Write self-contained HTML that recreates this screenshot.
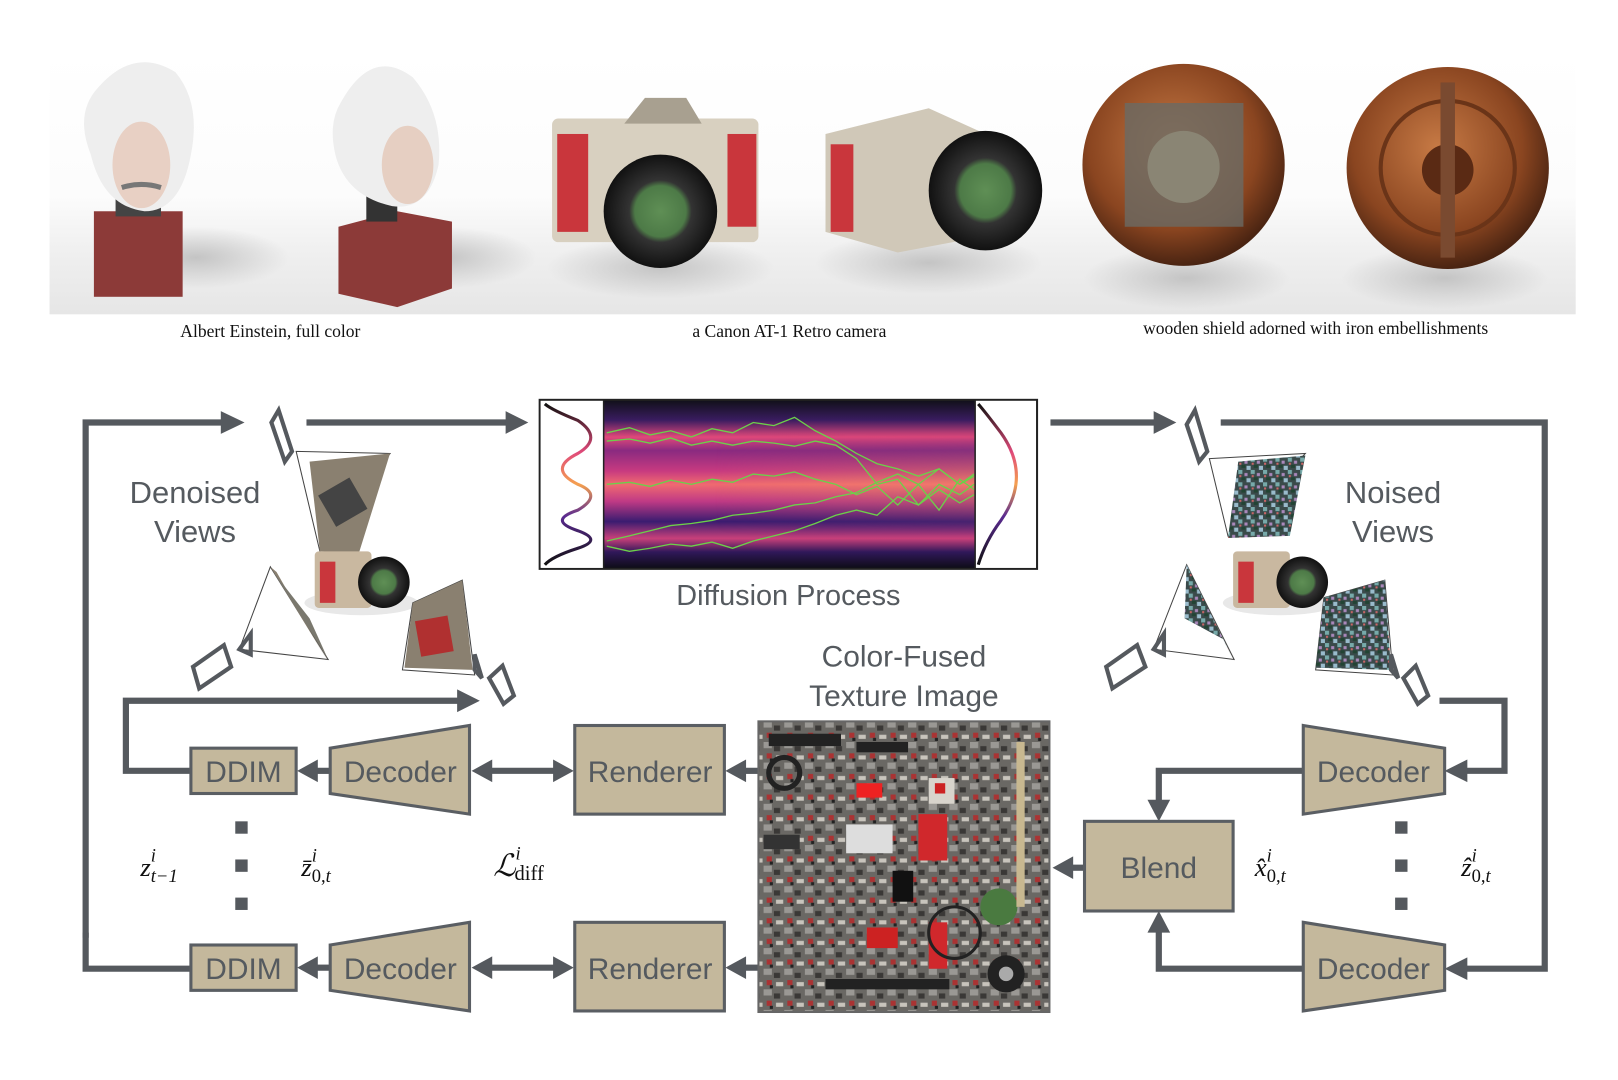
<!DOCTYPE html>
<html><head><meta charset="utf-8"><style>
html,body{margin:0;padding:0;background:#fff;overflow:hidden}
svg{display:block}
.sans{font-family:"Liberation Sans",sans-serif;fill:#555a5f}
.ser{font-family:"Liberation Serif",serif;fill:#111}
.box{fill:#c4b89c;stroke:#5a5e63;stroke-width:3}
.ln{stroke:#55595e;stroke-width:6;fill:none}
.ah{fill:#55595e}
.fr{fill:none;stroke:#55595e;stroke-width:4}
.th{stroke:#444;stroke-width:1;fill:none}
</style></head><body>
<svg width="1618" height="1080" viewBox="0 0 1568 1048" preserveAspectRatio="none" xmlns="http://www.w3.org/2000/svg">
<defs>
<linearGradient id="floor" x1="0" y1="0" x2="0" y2="1"><stop offset="0" stop-color="#fff"/><stop offset="0.55" stop-color="#fcfcfc"/><stop offset="0.75" stop-color="#f0f0f0"/><stop offset="1" stop-color="#e6e6e6"/></linearGradient>
<radialGradient id="shadow" cx="0.5" cy="0.5" r="0.5"><stop offset="0" stop-color="#c4c4c4"/><stop offset="1" stop-color="#c4c4c4" stop-opacity="0"/></radialGradient>
<radialGradient id="shield" cx="0.45" cy="0.4" r="0.6"><stop offset="0" stop-color="#c77a45"/><stop offset="0.7" stop-color="#8a4520"/><stop offset="1" stop-color="#4a2412"/></radialGradient>
<radialGradient id="lens" cx="0.5" cy="0.5" r="0.5"><stop offset="0" stop-color="#5f8f55"/><stop offset="0.45" stop-color="#4d7a47"/><stop offset="0.55" stop-color="#333"/><stop offset="1" stop-color="#111"/></radialGradient>
<linearGradient id="diff" x1="0" y1="0" x2="0" y2="1">
<stop offset="0" stop-color="#101018"/><stop offset="0.12" stop-color="#3a1c60"/><stop offset="0.22" stop-color="#e0487a"/><stop offset="0.3" stop-color="#8a2a80"/><stop offset="0.42" stop-color="#c73a80"/><stop offset="0.5" stop-color="#f06a70"/><stop offset="0.6" stop-color="#c03a85"/><stop offset="0.72" stop-color="#3a1c70"/><stop offset="0.82" stop-color="#c8407a"/><stop offset="0.9" stop-color="#30185a"/><stop offset="1" stop-color="#0c0c14"/></linearGradient>
<linearGradient id="diffR" x1="0" y1="0" x2="0" y2="1"><stop offset="0" stop-color="#101018" stop-opacity="0"/><stop offset="0.2" stop-color="#4a2078" stop-opacity="0"/><stop offset="0.5" stop-color="#f07a6a"/><stop offset="0.8" stop-color="#3a1c70" stop-opacity="0"/></linearGradient>
<linearGradient id="fadeR" x1="0" y1="0" x2="1" y2="0"><stop offset="0.3" stop-color="#fff" stop-opacity="0"/><stop offset="1" stop-color="#fff" stop-opacity="1"/></linearGradient>
<mask id="mR"><rect x="585" y="388" width="360" height="164" fill="url(#fadeR)"/></mask>
<linearGradient id="curveL" x1="0" y1="0" x2="0" y2="1"><stop offset="0" stop-color="#111"/><stop offset="0.3" stop-color="#e04a7a"/><stop offset="0.5" stop-color="#f5a050"/><stop offset="0.7" stop-color="#5a2a90"/><stop offset="1" stop-color="#111"/></linearGradient>
<pattern id="noise" width="12" height="12" patternUnits="userSpaceOnUse"><rect width="12" height="12" fill="#3a4a4a"/><rect x="0" y="0" width="4" height="4" fill="#7aa"/><rect x="6" y="3" width="3" height="3" fill="#a8b"/><rect x="3" y="7" width="4" height="3" fill="#243"/><rect x="8" y="8" width="4" height="4" fill="#9bc"/><rect x="1" y="5" width="2" height="2" fill="#c66"/></pattern>
<pattern id="tex" width="20" height="20" patternUnits="userSpaceOnUse"><rect width="20" height="20" fill="#6a6864"/><rect x="0" y="0" width="8" height="6" fill="#9a9894"/><rect x="10" y="4" width="6" height="5" fill="#3a3836"/><rect x="3" y="11" width="5" height="5" fill="#a33"/><rect x="12" y="13" width="7" height="4" fill="#c8c4bc"/><rect x="6" y="16" width="3" height="3" fill="#222"/></pattern>
</defs>

<!-- top photos -->
<rect x="48" y="50" width="1479" height="255" fill="url(#floor)"/>
<!-- Einstein 1 -->
<ellipse cx="190" cy="250" rx="90" ry="30" fill="url(#shadow)"/>
<rect x="91" y="205" width="86" height="83" fill="#8c3a38"/>
<rect x="112" y="180" width="44" height="30" fill="#444"/>
<path d="M95 85 Q130 45 170 70 Q195 100 185 150 Q175 205 140 205 Q100 200 88 150 Q72 110 95 85Z" fill="#eee"/>
<ellipse cx="137" cy="160" rx="28" ry="42" fill="#e8d0c4"/>
<path d="M118 182 Q137 176 156 182" stroke="#777" stroke-width="5" fill="none"/>
<!-- Einstein 2 -->
<ellipse cx="430" cy="250" rx="90" ry="30" fill="url(#shadow)"/>
<polygon points="328,220 385,205 438,215 438,280 385,298 328,285" fill="#8c3a38"/>
<rect x="355" y="180" width="30" height="35" fill="#333"/>
<path d="M330 100 Q360 45 400 75 Q430 110 425 160 Q415 205 380 200 Q335 190 325 150 Q318 120 330 100Z" fill="#eee"/>
<ellipse cx="395" cy="160" rx="25" ry="38" fill="#e6cfc2"/>
<!-- Camera 1 -->
<ellipse cx="640" cy="260" rx="110" ry="30" fill="url(#shadow)"/>
<rect x="535" y="115" width="200" height="120" rx="6" fill="#d8d0c0"/>
<rect x="540" y="130" width="30" height="95" fill="#c9363c"/>
<rect x="705" y="130" width="28" height="90" fill="#c9363c"/>
<polygon points="605,120 625,95 665,95 680,120" fill="#a8a090"/>
<circle cx="640" cy="205" r="55" fill="url(#lens)"/>
<!-- Camera 2 -->
<ellipse cx="900" cy="255" rx="110" ry="30" fill="url(#shadow)"/>
<polygon points="800,130 900,105 955,130 950,230 870,245 800,225" fill="#d0c8b8"/>
<rect x="805" y="140" width="22" height="85" fill="#c9363c"/>
<ellipse cx="955" cy="185" rx="55" ry="58" fill="url(#lens)"/>
<!-- Shield 1 -->
<ellipse cx="1150" cy="270" rx="100" ry="30" fill="url(#shadow)"/>
<circle cx="1147" cy="160" r="98" fill="url(#shield)"/>
<polygon points="1090,100 1205,100 1205,220 1090,220" fill="#6a6a64" opacity="0.8"/>
<circle cx="1147" cy="162" r="35" fill="#8a8574"/>
<!-- Shield 2 -->
<ellipse cx="1400" cy="270" rx="100" ry="30" fill="url(#shadow)"/>
<circle cx="1403" cy="163" r="98" fill="url(#shield)"/>
<circle cx="1403" cy="163" r="65" fill="none" stroke="#6a3418" stroke-width="4"/>
<circle cx="1403" cy="165" r="25" fill="#5a2a14"/>
<rect x="1396" y="80" width="14" height="170" fill="#7a4a30"/>

<text class="ser" x="262" y="327" font-size="17" text-anchor="middle">Albert Einstein, full color</text>
<text class="ser" x="765" y="327" font-size="17" text-anchor="middle">a Canon AT-1 Retro camera</text>
<text class="ser" x="1275" y="324" font-size="17" text-anchor="middle">wooden shield adorned with iron embellishments</text>

<!-- Diffusion box -->
<rect x="585" y="388" width="360" height="164" fill="url(#diff)"/>
<rect x="585" y="388" width="360" height="164" fill="url(#diffR)" mask="url(#mR)"/>
<g stroke="#6cd04a" stroke-width="1.3" fill="none">
<polyline points="588,420 610,415 630,422 650,418 670,424 690,416 710,420 730,410 750,413 770,405 790,418 810,428 830,440 850,450 870,455 890,462 910,455 930,470 944,460"/>
<polyline points="588,428 610,426 630,430 650,425 670,432 690,428 710,432 730,428 750,430 770,433 790,428 810,432 830,445 850,470 870,465 890,490 910,470 930,480 944,470"/>
<polyline points="588,470 610,468 630,472 650,466 670,470 690,465 710,468 730,460 750,462 770,458 790,465 810,470 830,480 850,472 870,490 890,470 910,495 930,465 944,475"/>
<polyline points="588,525 610,520 630,515 650,510 670,508 690,505 710,500 730,498 750,495 770,490 790,488 810,482 830,478 850,468 870,460 890,470 910,455 930,470 944,462"/>
<polyline points="588,530 610,535 630,532 650,528 670,530 690,526 710,532 730,525 750,520 770,515 790,508 810,500 830,495 850,500 870,482 890,490 910,475 930,488 944,480"/>
</g>
<rect x="523" y="388" width="482" height="164" fill="none" stroke="#222" stroke-width="2"/>
<rect x="524" y="389" width="61" height="162" fill="#fff"/>
<rect x="945" y="389" width="59" height="162" fill="#fff"/>
<line x1="585" y1="388" x2="585" y2="552" stroke="#222" stroke-width="1.5"/>
<line x1="945" y1="388" x2="945" y2="552" stroke="#222" stroke-width="1.5"/>
<path d="M528 392 Q535 398 560 408 Q585 425 560 440 Q530 455 560 470 Q585 480 560 495 Q530 505 560 515 Q585 524 560 532 Q535 540 528 548" stroke="url(#curveL)" stroke-width="3" fill="none"/>
<path d="M948 392 Q955 400 970 420 Q1000 462 970 505 Q955 525 948 548" stroke="url(#curveL)" stroke-width="3" fill="none"/>
<text class="sans" x="764" y="587" font-size="28" text-anchor="middle">Diffusion Process</text>

<!-- main lines -->
<polyline class="ln" points="83,910 83,410 218,410"/>
<polygon class="ah" points="237,410 214,399 214,421"/>
<line class="ln" x1="297" y1="410" x2="492" y2="410"/>
<polygon class="ah" points="512,410 490,399 490,421"/>
<line class="ln" x1="1018" y1="410" x2="1120" y2="410"/>
<polygon class="ah" points="1140,410 1118,399 1118,421"/>
<polyline class="ln" points="1183,410 1497,410 1497,940 1420,940"/>
<polygon class="ah" points="1400,940 1422,929 1422,951"/>
<polyline class="ln" points="83,905 83,940 185,940"/>
<polyline class="ln" points="185,748 122,748 122,680 445,680"/>
<polygon class="ah" points="465,680 443,669 443,691"/>
<polyline class="ln" points="1395,680 1458,680 1458,748 1420,748"/>
<polygon class="ah" points="1400,748 1422,737 1422,759"/>
<polyline class="ln" points="1263,748 1123,748 1123,780"/>
<polygon class="ah" points="1123,797 1112,776 1134,776"/>
<polyline class="ln" points="1263,940 1123,940 1123,903"/>
<polygon class="ah" points="1123,884 1112,905 1134,905"/>
<line class="ln" x1="1051" y1="842" x2="1038" y2="842"/>
<polygon class="ah" points="1020,842 1040,831 1040,853"/>

<!-- left rows -->
<g>
<line class="ln" x1="320" y1="748" x2="305" y2="748"/>
<polygon class="ah" points="288,748 308,737 308,759"/>
<line class="ln" x1="475" y1="748" x2="537" y2="748"/>
<polygon class="ah" points="457,748 477,737 477,759"/>
<polygon class="ah" points="556,748 536,737 536,759"/>
<line class="ln" x1="720" y1="748" x2="735" y2="748"/>
<polygon class="ah" points="703,748 723,737 723,759"/>
<rect class="box" x="185" y="726" width="102" height="44"/>
<text class="sans" x="236" y="759" font-size="29" text-anchor="middle">DDIM</text>
<polygon class="box" points="320,726 455,704 455,790 320,770"/>
<text class="sans" x="388" y="759" font-size="29" text-anchor="middle">Decoder</text>
<rect class="box" x="557" y="704" width="145" height="86"/>
<text class="sans" x="630" y="759" font-size="29" text-anchor="middle">Renderer</text>
</g>
<g transform="translate(0,191)">
<line class="ln" x1="320" y1="748" x2="305" y2="748"/>
<polygon class="ah" points="288,748 308,737 308,759"/>
<line class="ln" x1="475" y1="748" x2="537" y2="748"/>
<polygon class="ah" points="457,748 477,737 477,759"/>
<polygon class="ah" points="556,748 536,737 536,759"/>
<line class="ln" x1="720" y1="748" x2="735" y2="748"/>
<polygon class="ah" points="703,748 723,737 723,759"/>
<rect class="box" x="185" y="726" width="102" height="44"/>
<text class="sans" x="236" y="759" font-size="29" text-anchor="middle">DDIM</text>
<polygon class="box" points="320,726 455,704 455,790 320,770"/>
<text class="sans" x="388" y="759" font-size="29" text-anchor="middle">Decoder</text>
<rect class="box" x="557" y="704" width="145" height="86"/>
<text class="sans" x="630" y="759" font-size="29" text-anchor="middle">Renderer</text>
</g>
<!-- right decoders / blend -->
<polygon class="box" points="1263,704 1400,726 1400,770 1263,790"/>
<text class="sans" x="1331" y="759" font-size="29" text-anchor="middle">Decoder</text>
<polygon class="box" points="1263,895 1400,917 1400,961 1263,981"/>
<text class="sans" x="1331" y="950" font-size="29" text-anchor="middle">Decoder</text>
<rect class="box" x="1051" y="797" width="144" height="87"/>
<text class="sans" x="1123" y="852" font-size="29" text-anchor="middle">Blend</text>

<!-- dots -->
<g fill="#55595e"><rect x="228" y="797" width="12" height="12"/><rect x="228" y="834" width="12" height="12"/><rect x="228" y="871" width="12" height="12"/>
<rect x="1352" y="797" width="12" height="12"/><rect x="1352" y="834" width="12" height="12"/><rect x="1352" y="871" width="12" height="12"/></g>

<!-- math -->
<g class="ser" font-size="26" font-style="italic">
<text x="136" y="850">z<tspan font-size="18" dy="-14">i</tspan><tspan font-size="18" dx="-5" dy="20">t−1</tspan></text>
<text x="292" y="850">z̄<tspan font-size="18" dy="-14">i</tspan><tspan font-size="18" dx="-5" dy="20" font-style="normal">0,<tspan font-style="italic">t</tspan></tspan></text>
<text x="478" y="850" font-size="30">ℒ<tspan font-size="18" dy="-16">i</tspan><tspan font-size="20" dx="-6" dy="20" font-style="normal">diff</tspan></text>
<text x="1216" y="850">x̂<tspan font-size="18" dy="-14">i</tspan><tspan font-size="18" dx="-5" dy="20" font-style="normal">0,<tspan font-style="italic">t</tspan></tspan></text>
<text x="1416" y="850">ẑ<tspan font-size="18" dy="-14">i</tspan><tspan font-size="18" dx="-5" dy="20" font-style="normal">0,<tspan font-style="italic">t</tspan></tspan></text>
</g>

<!-- texture image -->
<rect x="735" y="700" width="282" height="282" fill="url(#tex)" stroke="#666" stroke-width="2"/>
<g>
<rect x="745" y="712" width="70" height="12" fill="#222"/><rect x="830" y="720" width="50" height="10" fill="#222"/>
<rect x="900" y="755" width="25" height="25" fill="#d8d4cc"/><rect x="906" y="760" width="10" height="10" fill="#c22"/>
<rect x="890" y="790" width="28" height="45" fill="#d0282c"/><rect x="830" y="760" width="25" height="14" fill="#e22"/>
<rect x="820" y="800" width="45" height="28" fill="#ddd"/><rect x="900" y="895" width="18" height="45" fill="#d0282c"/>
<rect x="865" y="845" width="20" height="30" fill="#111"/><circle cx="968" cy="880" r="18" fill="#4a7a40"/>
<circle cx="925" cy="905" r="25" fill="none" stroke="#222" stroke-width="3"/><circle cx="975" cy="945" r="18" fill="#222"/><circle cx="975" cy="945" r="7" fill="#aaa"/>
<circle cx="760" cy="750" r="15" fill="none" stroke="#222" stroke-width="5"/><rect x="740" y="810" width="35" height="14" fill="#333"/>
<rect x="985" y="720" width="8" height="160" fill="#c8b890"/><rect x="800" y="950" width="120" height="10" fill="#222"/>
<rect x="840" y="900" width="30" height="20" fill="#c22"/>
</g>
<text class="sans" x="876" y="647" font-size="29" text-anchor="middle">Color-Fused</text>
<text class="sans" x="876" y="685" font-size="29" text-anchor="middle">Texture Image</text>

<!-- Denoised views -->
<text class="sans" x="189" y="488" font-size="30" text-anchor="middle">Denoised</text>
<text class="sans" x="189" y="526" font-size="30" text-anchor="middle">Views</text>
<polygon class="fr" points="263,410 270,398 283,438 276,448"/>
<polygon class="th" points="287,438 378,440 310,535"/>
<polygon points="300,448 378,440 348,536 310,535" fill="#8a8070"/>
<rect x="315" y="470" width="35" height="35" fill="#444" transform="rotate(-30 332 488)"/>
<ellipse cx="350" cy="585" rx="55" ry="12" fill="#e8e8e8"/>
<rect x="305" y="535" width="55" height="55" rx="4" fill="#c9b8a0"/><rect x="310" y="545" width="15" height="40" fill="#c9363c"/>
<circle cx="372" cy="565" r="25" fill="url(#lens)"/>
<polygon class="th" points="232,630 262,550 318,640"/>
<polygon points="262,550 318,642 305,620 268,555" fill="#8a8070"/>
<polygon points="265,555 318,640 300,600" fill="#7a786e"/>
<polygon class="th" points="400,585 448,563 460,655 390,650"/>
<polygon points="400,585 448,563 458,650 392,648" fill="#8a8070"/>
<rect x="405" y="600" width="32" height="35" fill="#b03030" transform="rotate(-10 420 618)"/>
<polygon class="fr" points="187,647 217,626 224,647 193,668"/>
<polygon class="fr" points="232,630 243,615 243,635"/>
<polygon class="fr" points="474,658 487,646 498,675 488,683"/>
<polygon class="fr" points="460,650 460,635 467,658"/>

<!-- Noised views -->
<text class="sans" x="1350" y="488" font-size="30" text-anchor="middle">Noised</text>
<text class="sans" x="1350" y="526" font-size="30" text-anchor="middle">Views</text>
<polygon class="fr" points="1150,412 1158,398 1170,438 1162,448"/>
<polygon class="th" points="1172,445 1265,440 1190,520"/>
<polygon points="1200,448 1265,442 1250,520 1190,522" fill="url(#noise)"/>
<ellipse cx="1240" cy="585" rx="55" ry="12" fill="#e8e8e8"/>
<rect x="1195" y="535" width="55" height="55" rx="4" fill="#c9b8a0"/><rect x="1200" y="545" width="15" height="40" fill="#c9363c"/>
<circle cx="1262" cy="565" r="25" fill="url(#lens)"/>
<polygon class="th" points="1118,630 1150,548 1196,640"/>
<polygon points="1150,548 1196,642 1185,620 1148,600" fill="url(#noise)"/>
<polygon class="th" points="1283,580 1342,563 1350,655 1275,650"/>
<polygon points="1283,580 1342,563 1348,650 1275,648" fill="url(#noise)"/>
<polygon class="fr" points="1072,647 1102,626 1110,647 1078,668"/>
<polygon class="fr" points="1118,630 1128,615 1128,635"/>
<polygon class="fr" points="1360,658 1372,646 1384,675 1374,683"/>
<polygon class="fr" points="1348,650 1348,635 1355,658"/>
</svg>
</body></html>
